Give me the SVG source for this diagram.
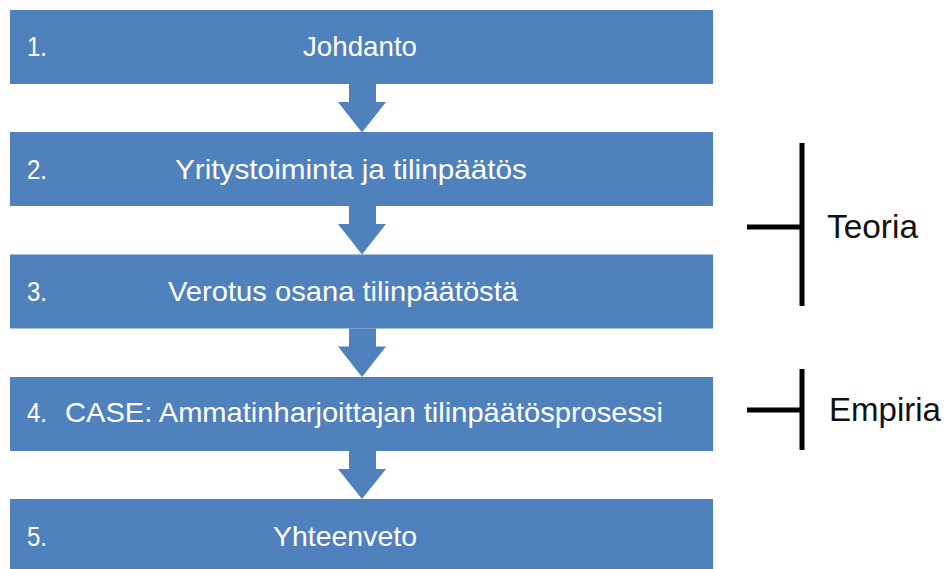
<svg xmlns="http://www.w3.org/2000/svg" width="947" height="569" viewBox="0 0 947 569">
  <style>
    .box { fill: #4F81BD; }
    .lbl { font-family: "Liberation Sans", Arial, sans-serif; font-size: 28px; fill: #FFFFFF; }
    .arrow { fill: #4F81BD; }
    .brace { stroke: #000000; stroke-width: 5; fill: none; stroke-linecap: butt; }
    .side { font-family: "Liberation Sans", Arial, sans-serif; font-size: 33px; fill: #111111; }
  </style>
  <rect x="0" y="0" width="947" height="569" fill="#FFFFFF"/>

  <!-- flow steps -->
  <g id="step1">
    <rect class="box" x="10" y="10" width="703" height="74"/>
    <text class="lbl" x="27" y="55.5" textLength="20" lengthAdjust="spacingAndGlyphs">1.</text>
    <text class="lbl" x="303" y="55.5" textLength="114" lengthAdjust="spacingAndGlyphs">Johdanto</text>
  </g>
  <g id="step2">
    <rect class="box" x="10" y="132" width="703" height="74"/>
    <text class="lbl" x="27" y="178.5" textLength="20" lengthAdjust="spacingAndGlyphs">2.</text>
    <text class="lbl" x="175" y="178.5" textLength="352" lengthAdjust="spacingAndGlyphs">Yritystoiminta ja tilinpäätös</text>
  </g>
  <g id="step3">
    <rect class="box" x="10" y="254.5" width="703" height="74"/>
    <text class="lbl" x="27" y="300.5" textLength="20" lengthAdjust="spacingAndGlyphs">3.</text>
    <text class="lbl" x="168" y="300.5" textLength="350" lengthAdjust="spacingAndGlyphs">Verotus osana tilinpäätöstä</text>
  </g>
  <g id="step4">
    <rect class="box" x="10" y="377" width="703" height="74"/>
    <text class="lbl" x="27" y="421.5" textLength="20" lengthAdjust="spacingAndGlyphs">4.</text>
    <text class="lbl" x="65" y="421.5" textLength="598" lengthAdjust="spacingAndGlyphs">CASE: Ammatinharjoittajan tilinpäätösprosessi</text>
  </g>
  <g id="step5">
    <rect class="box" x="10" y="499" width="703" height="74"/>
    <text class="lbl" x="27" y="545.5" textLength="20" lengthAdjust="spacingAndGlyphs">5.</text>
    <text class="lbl" x="273" y="545.5" textLength="144" lengthAdjust="spacingAndGlyphs">Yhteenveto</text>
  </g>

  <!-- block arrows between steps -->
  <g id="connectors">
    <path class="arrow" d="M349,84 H376 V102 H386 L362,132.5 L338,102 H349 Z"/>
    <path class="arrow" d="M349,206 H376 V224 H386 L362,254.5 L338,224 H349 Z"/>
    <path class="arrow" d="M349,328.5 H376 V346.5 H386 L362,377 L338,346.5 H349 Z"/>
    <path class="arrow" d="M349,451 H376 V469 H386 L362,499 L338,469 H349 Z"/>
  </g>

  <!-- section brackets -->
  <g id="teoria">
    <path class="brace" d="M802,143 V306 M747,227 H802"/>
    <text class="side" x="827" y="238" textLength="91" lengthAdjust="spacingAndGlyphs">Teoria</text>
  </g>
  <g id="empiria">
    <path class="brace" d="M802,369 V450 M747,410 H802"/>
    <text class="side" x="829" y="421" textLength="112" lengthAdjust="spacingAndGlyphs">Empiria</text>
  </g>
</svg>
